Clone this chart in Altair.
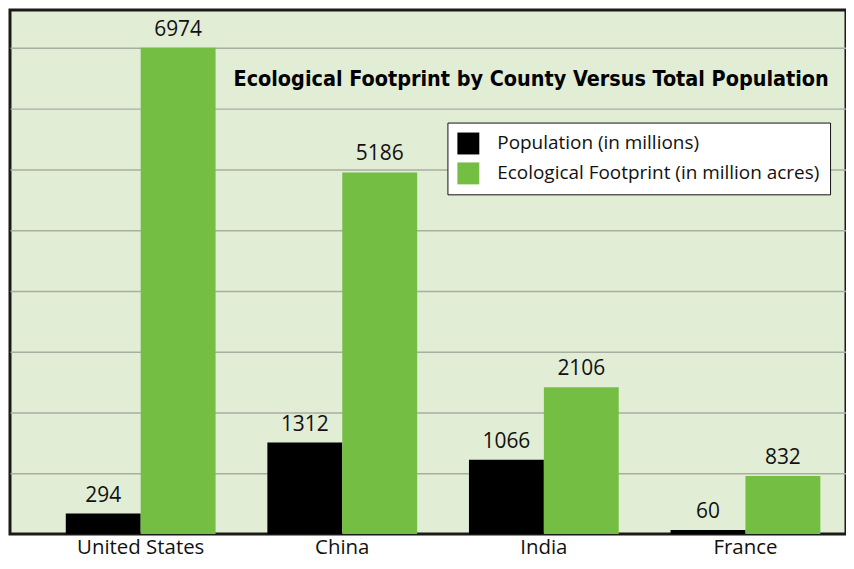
import altair as alt
import pandas as pd

countries = ["United States", "China", "India", "France"]
population = [294, 1312, 1066, 60]
footprint = [6974, 5186, 2106, 832]
series = ["Population (in millions)", "Ecological Footprint (in million acres)"]
colors = ["#000000", "#74be44"]
grid_values = [872 * i for i in range(1, 9)]

rows = []
for c, p, f in zip(countries, population, footprint):
    rows.append({"country": c, "series": series[0], "value": p})
    rows.append({"country": c, "series": series[1], "value": f})
df = pd.DataFrame(rows)

FONT = "Open Sans"

x = alt.X("country:N", sort=countries, title=None,
          scale=alt.Scale(paddingInner=0.257, paddingOuter=0.202, align=0.685),
          axis=alt.Axis(labelAngle=0, labelFontSize=20.5, labelFont=FONT, labelColor="#111",
                        ticks=False, domain=False, labelPadding=3))
xo = alt.XOffset("series:N", sort=series, scale=alt.Scale(paddingInner=0, paddingOuter=0))
y = alt.Y("value:Q", title=None,
          scale=alt.Scale(domain=[0, 7515], nice=False),
          axis=alt.Axis(values=grid_values, labels=False, ticks=False, domain=False,
                        grid=True, gridColor="#a9aea3", gridWidth=1.5))

bars = alt.Chart(df).mark_bar().encode(
    x=x, xOffset=xo, y=y,
    color=alt.Color("series:N", sort=series,
                    scale=alt.Scale(domain=series, range=colors),
                    legend=alt.Legend(title=None, orient="none", legendX=439, legendY=113,
                                      symbolType="square", symbolSize=484, symbolStrokeWidth=0,
                                      labelFontSize=19, labelFont=FONT, labelColor="#111",
                                      labelLimit=400, fillColor="white", strokeColor="#111",
                                      padding=10, rowPadding=8, labelOffset=18,
                                      symbolOpacity=1)),
)

labels = alt.Chart(df).mark_text(baseline="bottom", dy=-8, fontSize=21, font=FONT, color="#111").encode(
    x=alt.X("country:N", sort=countries), xOffset=xo, y="value:Q", text="value:Q"
)

title = alt.Chart(pd.DataFrame({"t": ["Ecological Footprint by County Versus Total Population"]})).mark_text(
    font="DejaVu Sans Condensed", fontWeight="bold", fontSize=21.5, color="#000", align="center",
    baseline="middle"
).encode(x=alt.value(523), y=alt.value(70), text="t:N")

chart = alt.layer(bars, labels, title).properties(
    width=839, height=526,
    padding={"left": 2, "top": 1, "right": 0, "bottom": 0},
).configure_view(fill="#e2edd5", stroke="#1a1a1a", strokeWidth=3)

chart.save("out.html", embed_options={"renderer": "svg", "actions": False})
